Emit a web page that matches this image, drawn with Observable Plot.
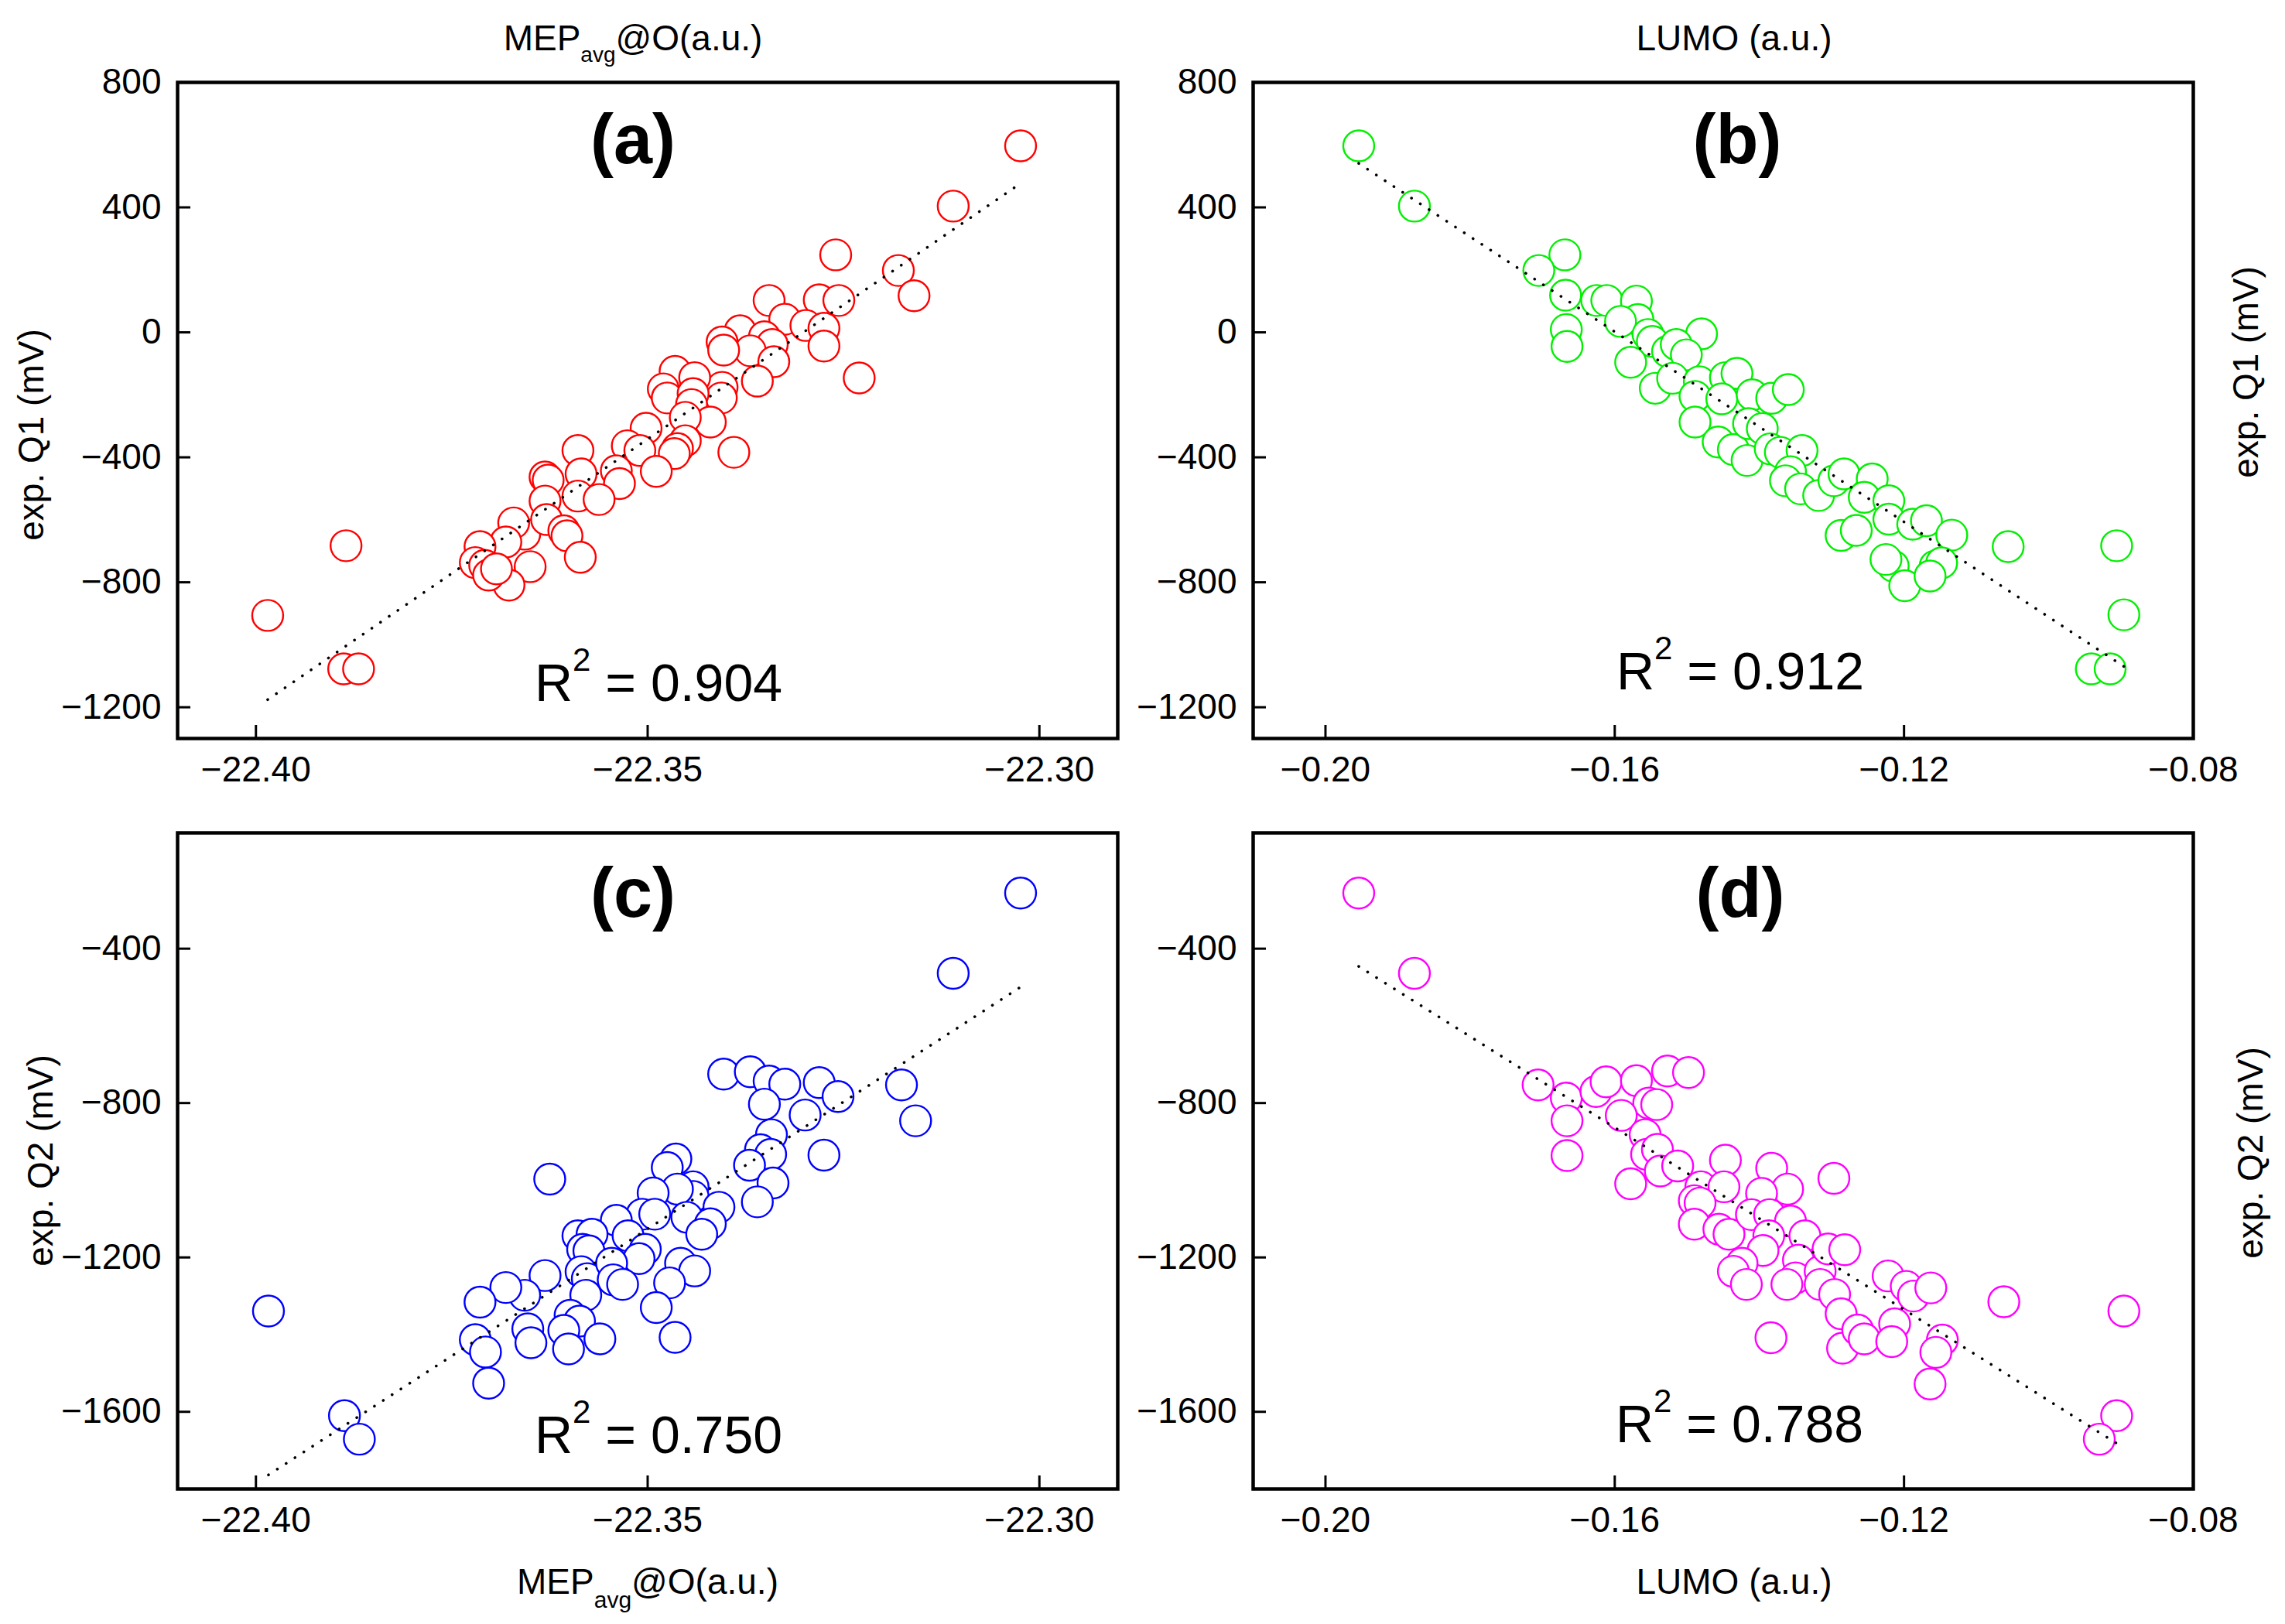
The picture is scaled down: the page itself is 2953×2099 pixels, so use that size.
<!DOCTYPE html>
<html>
<head>
<meta charset="utf-8">
<script src="https://cdn.jsdelivr.net/npm/d3@7"></script>
<script src="https://cdn.jsdelivr.net/npm/@observablehq/plot@0.6"></script>
<style>
  body { margin: 0; background: #fff; }
  #fig { position: relative; width: 2953px; height: 2099px; background: #fff; color: #000;
         font-family: "Liberation Sans", Arial, sans-serif; }
  .cell { position: absolute; }
  #overlay { position: absolute; left: 0; top: 0; pointer-events: none; }
</style>
</head>
<body>
<div id="fig"></div>
<script>
// MEP_avg@O (a.u.) vs exp. Q1 (mV)
const mepQ1 = [
  [-22.3024, 597], [-22.311, 404], [-22.326, 248], [-22.318, 198], [-22.316, 117], [-22.323, -146],
  [-22.339, -384], [-22.3885, -683], [-22.3985, -906], [-22.3888, -1077], [-22.3869, -1077],
  [-22.3345, 102], [-22.3281, 104], [-22.3256, 102], [-22.3325, 42], [-22.3298, 22], [-22.3275, 13],
  [-22.3275, -44], [-22.3382, 5], [-22.3351, -14], [-22.3341, -39], [-22.3369, -59], [-22.3405, -31],
  [-22.3403, -57], [-22.3339, -94], [-22.336, -156], [-22.3405, -176], [-22.3406, -210], [-22.3465, -125],
  [-22.344, -145], [-22.348, -181], [-22.3475, -210], [-22.3442, -196], [-22.3444, -231], [-22.342, -287],
  [-22.3452, -272], [-22.3502, -307], [-22.3526, -363], [-22.351, -378], [-22.3452, -347], [-22.3462, -372],
  [-22.3466, -388], [-22.3489, -445], [-22.354, -443], [-22.3536, -484], [-22.3589, -378], [-22.3585, -453],
  [-22.3589, -524], [-22.3562, -535], [-22.3631, -463], [-22.3627, -473], [-22.3631, -540], [-22.3657, -646],
  [-22.3671, -610], [-22.3681, -671], [-22.3629, -599], [-22.3607, -635], [-22.3603, -651], [-22.3586, -720],
  [-22.365, -750], [-22.3677, -809], [-22.3714, -686], [-22.372, -737], [-22.3708, -746], [-22.3703, -777],
  [-22.3693, -757]
];

// LUMO (a.u.) vs exp. Q1 (mV)
const lumoQ1 = [
  [-0.1954, 597], [-0.1877, 404], [-0.1056, -686], [-0.0906, -683], [-0.0896, -904], [-0.0941, -1077],
  [-0.0915, -1077],
  [-0.1669, 248], [-0.1705, 198], [-0.1668, 119], [-0.1667, 9], [-0.1666, -45], [-0.1625, 102],
  [-0.1611, 102], [-0.157, 100], [-0.1568, 41], [-0.1592, 35], [-0.1554, -7], [-0.1548, -29],
  [-0.148, -5], [-0.1527, -61], [-0.1515, -39], [-0.1578, -96], [-0.1501, -72], [-0.1544, -179],
  [-0.152, -147], [-0.1483, -158], [-0.1447, -145], [-0.1431, -131], [-0.1489, -205], [-0.1452, -213],
  [-0.1489, -287], [-0.141, -200], [-0.1383, -211], [-0.136, -183], [-0.1457, -351], [-0.1436, -375],
  [-0.1417, -410], [-0.1415, -292], [-0.1396, -308], [-0.1385, -373], [-0.1371, -384], [-0.1341, -378],
  [-0.1357, -446], [-0.1364, -475], [-0.1343, -501], [-0.1318, -522], [-0.1297, -475], [-0.1283, -453],
  [-0.1244, -469], [-0.1255, -528], [-0.1287, -650], [-0.1266, -634], [-0.1221, -539], [-0.1221, -598],
  [-0.1188, -614], [-0.1169, -603], [-0.1134, -649], [-0.1215, -748], [-0.1199, -811], [-0.1157, -748],
  [-0.1148, -738], [-0.1164, -780], [-0.1225, -727]
];

// MEP_avg@O (a.u.) vs exp. Q2 (mV)
const mepQ2 = [
  [-22.3024, -256], [-22.311, -464], [-22.3176, -753], [-22.3158, -846], [-22.3984, -1339],
  [-22.3887, -1610], [-22.3868, -1671],
  [-22.3403, -725], [-22.3369, -719], [-22.3345, -743], [-22.3325, -751], [-22.3281, -747], [-22.3257, -783],
  [-22.3351, -803], [-22.3299, -831], [-22.3342, -882], [-22.3356, -921], [-22.3343, -933], [-22.337, -961],
  [-22.334, -1007], [-22.336, -1056], [-22.3275, -935], [-22.3625, -997], [-22.3464, -945], [-22.3475, -967],
  [-22.3442, -1017], [-22.3442, -1042], [-22.3462, -1023], [-22.3493, -1033], [-22.3409, -1070],
  [-22.345, -1096], [-22.342, -1113], [-22.3431, -1140], [-22.3507, -1088], [-22.3491, -1088],
  [-22.354, -1104], [-22.3525, -1144], [-22.3503, -1179], [-22.3511, -1203], [-22.3458, -1215],
  [-22.344, -1235], [-22.3472, -1266], [-22.3489, -1330], [-22.3465, -1407], [-22.3589, -1144],
  [-22.3571, -1140], [-22.3583, -1179], [-22.3575, -1183], [-22.3585, -1237], [-22.3577, -1255],
  [-22.3546, -1215], [-22.3544, -1258], [-22.3532, -1270], [-22.3579, -1298], [-22.3599, -1350],
  [-22.3587, -1365], [-22.3607, -1389], [-22.3601, -1437], [-22.3561, -1411], [-22.3631, -1247],
  [-22.3657, -1298], [-22.3681, -1278], [-22.3714, -1316], [-22.3653, -1385], [-22.3649, -1421],
  [-22.372, -1413], [-22.3707, -1445], [-22.3703, -1526]
];

// LUMO (a.u.) vs exp. Q2 (mV)
const lumoQ2 = [
  [-0.1954, -256], [-0.1877, -464], [-0.0896, -1339], [-0.0906, -1610], [-0.093, -1671],
  [-0.1706, -753], [-0.1667, -787], [-0.1666, -846], [-0.1666, -936], [-0.1626, -770], [-0.1612, -745],
  [-0.157, -742], [-0.1553, -800], [-0.1542, -804], [-0.1527, -717], [-0.1498, -721], [-0.1591, -832],
  [-0.1558, -882], [-0.1556, -933], [-0.1541, -920], [-0.1537, -976], [-0.1513, -963], [-0.1578, -1009],
  [-0.1447, -948], [-0.1383, -969], [-0.1361, -1023], [-0.1397, -1034], [-0.1481, -1017], [-0.1449, -1017],
  [-0.149, -1053], [-0.1482, -1059], [-0.149, -1114], [-0.1456, -1127], [-0.1442, -1140], [-0.1411, -1089],
  [-0.1386, -1089], [-0.1357, -1106], [-0.1387, -1144], [-0.1337, -1144], [-0.1395, -1182], [-0.1424, -1215],
  [-0.1436, -1236], [-0.1418, -1270], [-0.1346, -1207], [-0.135, -1253], [-0.1362, -1270], [-0.1316, -1236],
  [-0.1305, -1178], [-0.1282, -1180], [-0.1316, -1270], [-0.1296, -1296], [-0.1287, -1346], [-0.1285, -1435],
  [-0.1264, -1388], [-0.1255, -1411], [-0.1222, -1248], [-0.1197, -1275], [-0.1187, -1300], [-0.1163, -1279],
  [-0.1213, -1372], [-0.1217, -1418], [-0.1147, -1414], [-0.1156, -1446], [-0.1164, -1528], [-0.1062, -1315],
  [-0.1384, -1408], [-0.1297, -995]
];

const mepTicks = [-22.40, -22.35, -22.30];
const lumoTicks = [-0.20, -0.16, -0.12, -0.08];
const q1Ticks = [-1200, -800, -400, 0, 400, 800];
const q2Ticks = [-1600, -1200, -800, -400];
const panelLetters = ["(a)", "(b)", "(c)", "(d)"];
const r2Values = ["0.904", "0.912", "0.750", "0.788"];

const fig = d3.select("#fig");

function panel(pts, o) {
  const data = pts.map(([x, y]) => ({x, y}));
  const chart = Plot.plot({
    width: o.width,
    height: o.height,
    marginLeft: o.ml,
    marginRight: o.width - o.ml - 1215,
    marginTop: o.mt,
    marginBottom: o.height - o.mt - 848,
    style: "font-family: 'Liberation Sans', Arial, sans-serif; font-size: 46px; color: #000; background: transparent; overflow: visible; max-width: none;",
    x: {domain: o.xDomain},
    y: {domain: o.yDomain},
    marks: [
      Plot.axisX({ticks: o.xTicks, tickFormat: d3.format(".2f"), tickSize: -17, tickPadding: 40, strokeWidth: 3, label: null}),
      Plot.axisY({ticks: o.yTicks, tickFormat: d3.format("d"), tickSize: -17, tickPadding: 38, strokeWidth: 3, label: null}),
      Plot.dot(data, {x: "x", y: "y", r: 20, stroke: o.color, strokeWidth: 2.4, fill: "white"}),
      Plot.linearRegressionY(data, {
        x: "x", y: "y", ci: 0, stroke: "black", strokeWidth: 3.6,
        strokeDasharray: "0.1 13.5", strokeLinecap: "round"
      }),
      Plot.frame({stroke: "black", strokeWidth: 4.5})
    ]
  });
  fig.append("div")
    .attr("class", "cell")
    .style("left", o.left + "px")
    .style("top", o.top + "px")
    .node().append(chart);
}

panel(mepQ1, {left: 0, top: 0, width: 1480, height: 1030, ml: 229, mt: 106,
  xDomain: [-22.41, -22.29], yDomain: [-1300, 800], xTicks: mepTicks, yTicks: q1Ticks, color: "#ff0000"});
panel(lumoQ1, {left: 1480, top: 0, width: 1473, height: 1030, ml: 139, mt: 106,
  xDomain: [-0.21, -0.08], yDomain: [-1300, 800], xTicks: lumoTicks, yTicks: q1Ticks, color: "#00f000"});
panel(mepQ2, {left: 0, top: 1030, width: 1480, height: 1069, ml: 229, mt: 46,
  xDomain: [-22.41, -22.29], yDomain: [-1800, -100], xTicks: mepTicks, yTicks: q2Ticks, color: "#0000ff"});
panel(lumoQ2, {left: 1480, top: 1030, width: 1473, height: 1069, ml: 139, mt: 46,
  xDomain: [-0.21, -0.08], yDomain: [-1800, -100], xTicks: lumoTicks, yTicks: q2Ticks, color: "#ff00ff"});

// text layer: titles, axis labels, panel letters, R²
const svg = fig.append("svg")
  .attr("id", "overlay")
  .attr("width", 2953)
  .attr("height", 2099)
  .style("font-family", "'Liberation Sans', Arial, sans-serif")
  .style("white-space", "pre");

function mepTitle(cx, y, sub, dy) {
  const t = svg.append("text").attr("x", cx).attr("y", y).attr("text-anchor", "middle").attr("font-size", 46);
  t.append("tspan").text("MEP");
  t.append("tspan").attr("dy", dy).attr("font-size", sub).text("avg");
  t.append("tspan").attr("dy", -dy).text("@O(a.u.)");
}
mepTitle(818, 65, 28, 15);
mepTitle(837, 2060, 30, 18);
[[2241, 65], [2241, 2060]].forEach(([x, y]) =>
  svg.append("text").attr("x", x).attr("y", y).attr("text-anchor", "middle").attr("font-size", 46).text("LUMO (a.u.)"));

[["exp. Q1 (mV)", 56, 562], ["exp. Q2 (mV)", 68, 1500], ["exp. Q1 (mV)", 2918, 481], ["exp. Q2 (mV)", 2924, 1490]]
  .forEach(([s, x, y]) =>
    svg.append("text").attr("transform", `translate(${x},${y}) rotate(-90)`)
      .attr("text-anchor", "middle").attr("font-size", 46).text(s));

const letterPos = [[818, 211], [2245, 211], [818, 1185], [2249, 1185]];
const r2Pos = [[851, 906], [2249, 891], [851, 1878], [2248, 1864]];
panelLetters.forEach((s, i) =>
  svg.append("text").attr("x", letterPos[i][0]).attr("y", letterPos[i][1])
    .attr("text-anchor", "middle").attr("font-size", 90).attr("font-weight", "bold").text(s));
r2Values.forEach((v, i) => {
  const t = svg.append("text").attr("x", r2Pos[i][0]).attr("y", r2Pos[i][1])
    .attr("text-anchor", "middle").attr("font-size", 68);
  t.append("tspan").text("R");
  t.append("tspan").attr("dy", -39).attr("font-size", 42).text("2");
  t.append("tspan").attr("dy", 39).text(" = " + v);
});
</script>
</body>
</html>
